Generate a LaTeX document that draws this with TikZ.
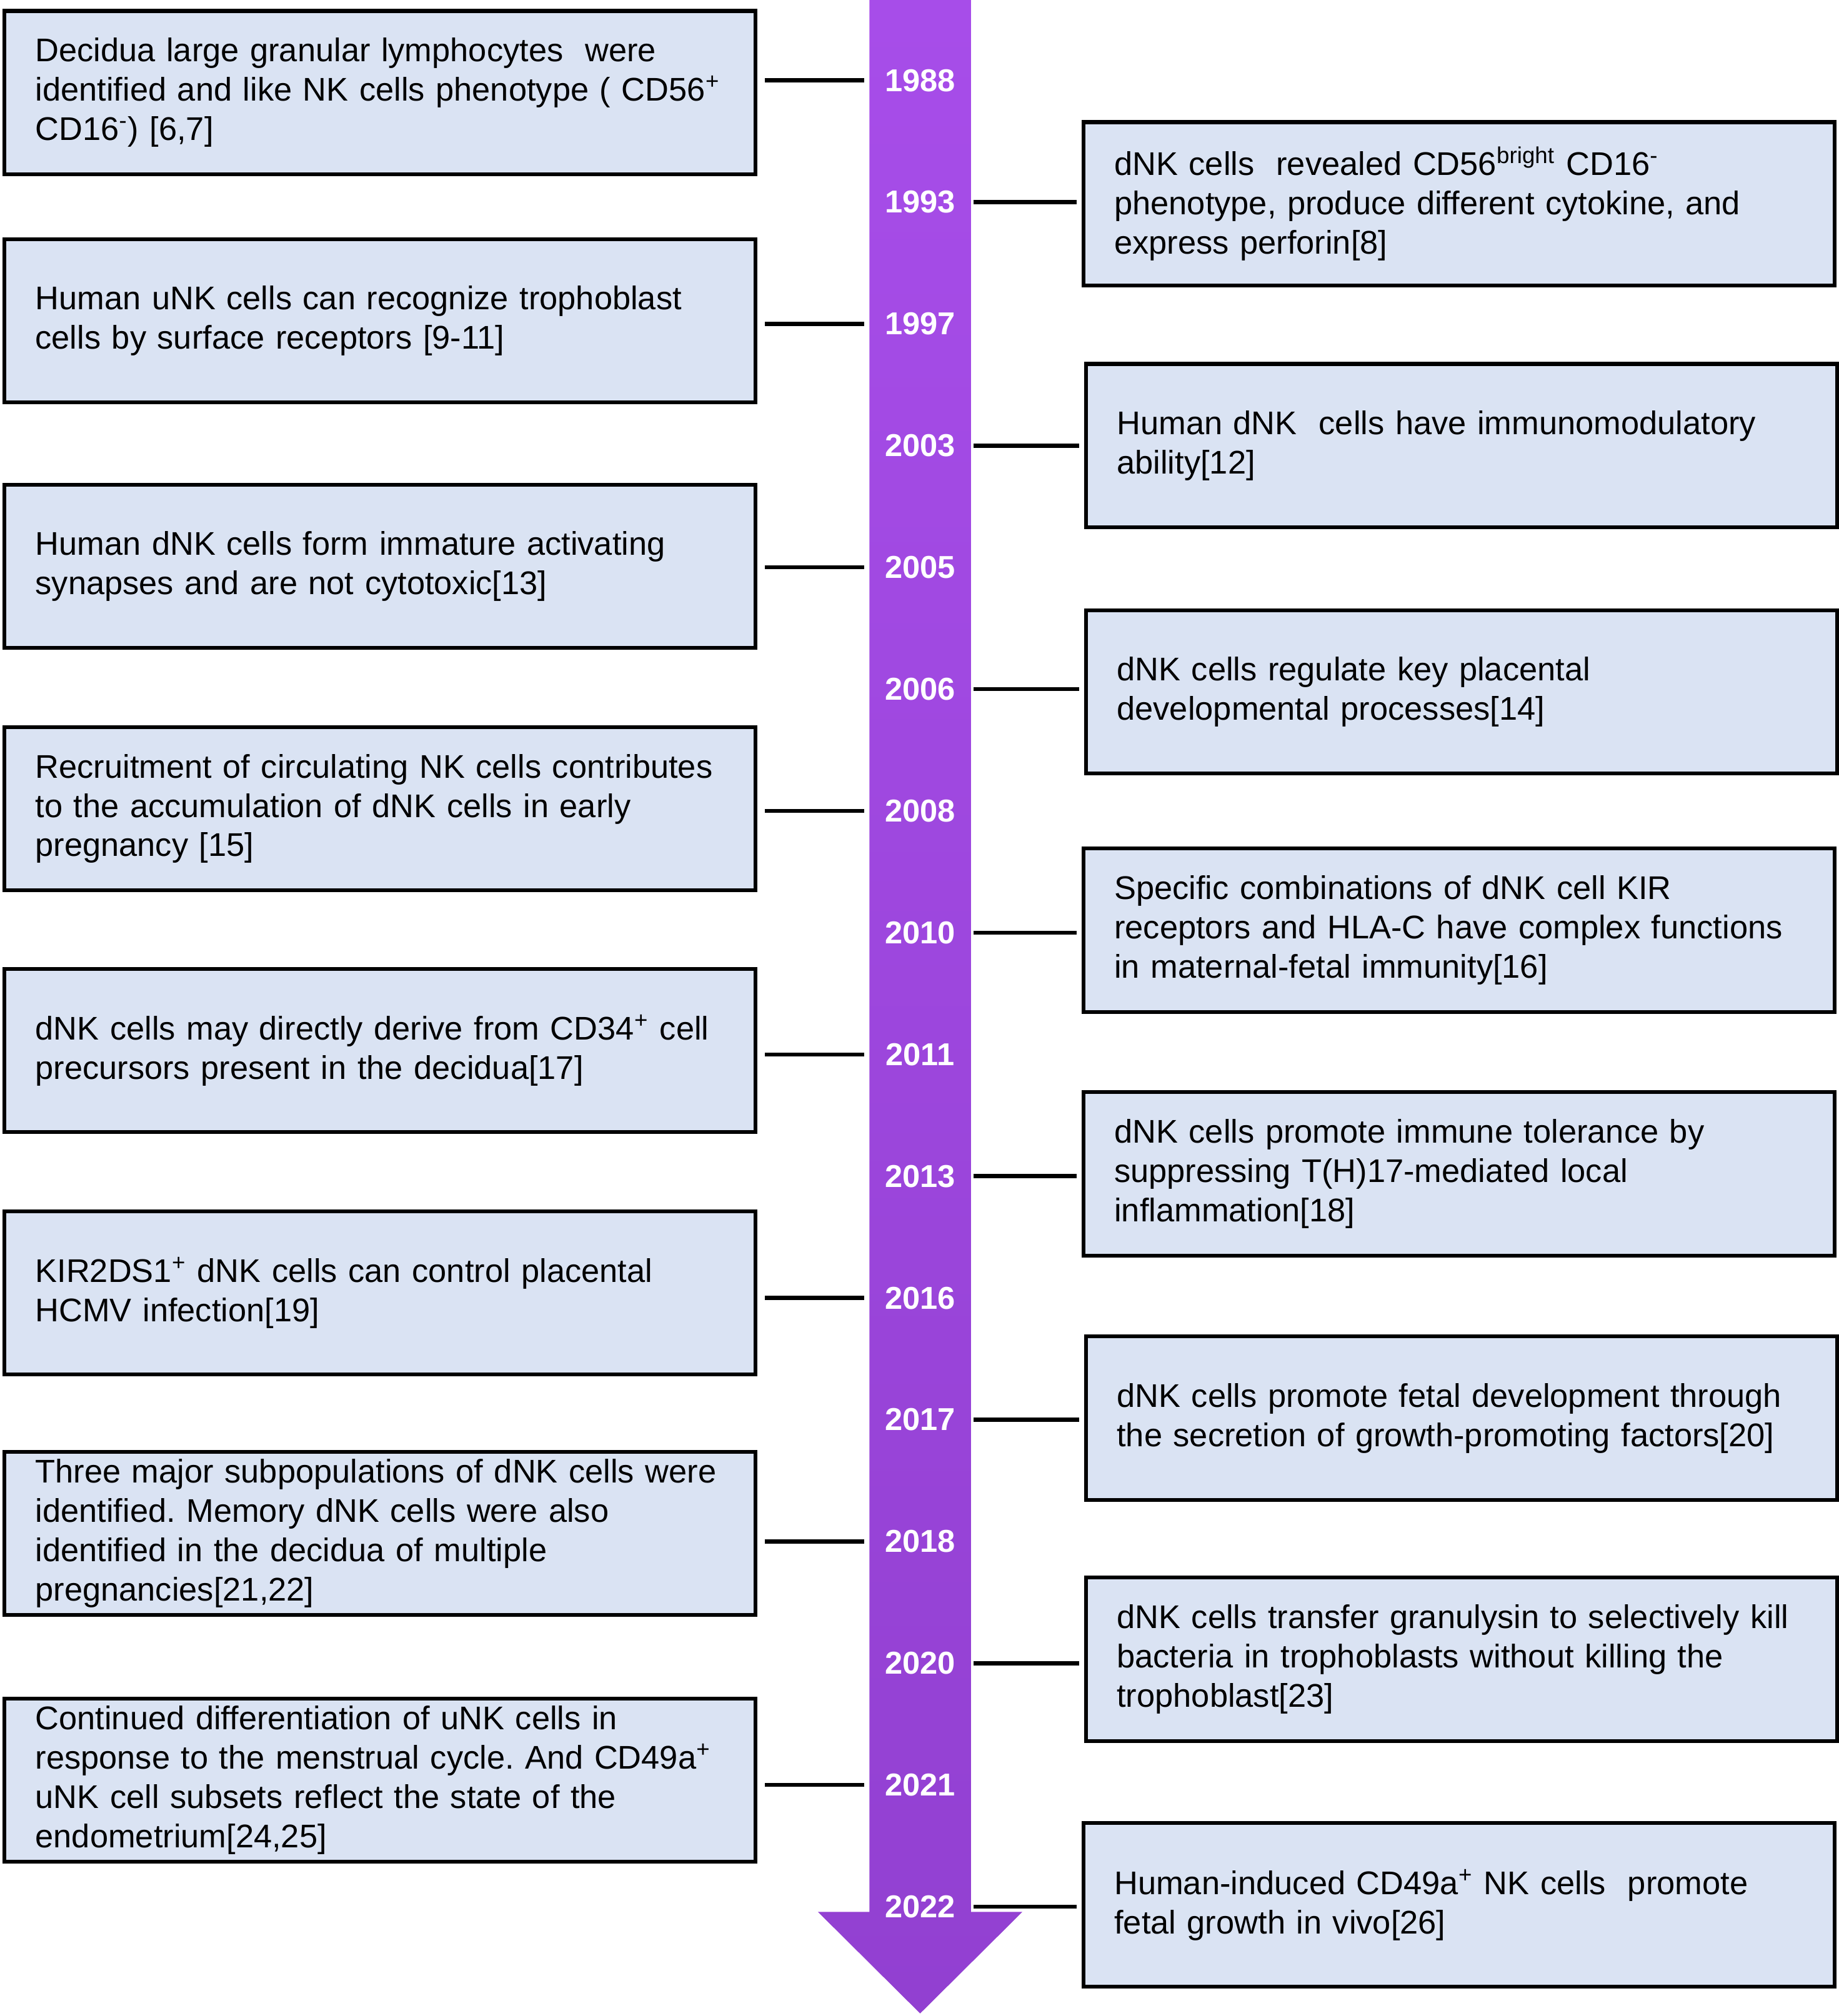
\documentclass[tikz,border=0pt]{standalone}
\usepackage{fontspec}
\setmainfont{Liberation Sans}
\usepackage{tikz}
\frenchspacing
\definecolor{boxblue}{RGB}{218,227,243}
\definecolor{bartop}{RGB}{167,77,233}
\definecolor{barbottom}{RGB}{146,64,209}
\tikzset{
x=0.02cm, y=-0.02cm, % one unit is one pixel of the sketch, y grows downwards
event/.style={draw, line width=1.7pt, fill=boxblue, text width=10.72cm, inner xsep=0.48cm, inner ysep=0pt, minimum height=2.54cm, align=left, anchor=west, font=\fontsize{14.5}{17.4}\selectfont}, % the text boxes
year/.style={text=white, font=\fontsize{14}{16}\selectfont\bfseries}, % years on the bar
conn/.style={line width=1.8pt}, % line from a box to its year
}
\begin{document}
\begin{tikzpicture}
                \useasboundingbox (0,0) rectangle (1430,1568);
                \shade[top color=bartop, bottom color=barbottom] (676,0) -- (755,0) -- (755,1487) -- (795,1487) -- (715.5,1566) -- (636,1487) -- (676,1487) -- cycle;
                \coordinate (barL) at (676,0);
                \coordinate (barR) at (755,0);
                \foreach \yr [count=\i from 0] in {1988,1993,1997,2003,2005,2006,2008,2010,2011,2013,2016,2017,2018,2020,2021,2022}
                    \node[year] (y\i) at (715.5,{62.5+94.7*\i}) {\yr};
                % left column
                \node[event] (l1) at (2,72) {Decidua large granular lymphocytes\ \ were\\ identified and like NK cells phenotype ( CD56\textsuperscript{+}\\ CD16\textsuperscript{-}) [6,7]};
                \node[event] (l2) at (2,249.5) {Human uNK cells can recognize trophoblast\\ cells by surface receptors [9-11]};
                \node[event] (l3) at (2,440.5) {Human dNK cells form immature activating\\ synapses and are not cytotoxic[13]};
                \node[event] (l4) at (2,629) {Recruitment of circulating NK cells contributes\\ to the accumulation of dNK cells in early\\ pregnancy [15]};
                \node[event] (l5) at (2,817) {dNK cells may directly derive from CD34\textsuperscript{+} cell\\ precursors present in the decidua[17]};
                \node[event] (l6) at (2,1005.5) {KIR2DS1\textsuperscript{+} dNK cells can control placental\\ HCMV infection[19]};
                \node[event] (l7) at (2,1192.5) {Three major subpopulations of dNK cells were\\ identified. Memory dNK cells were also\\ identified in the decidua of multiple\\ pregnancies[21,22]};
                \node[event] (l8) at (2,1384.5) {Continued differentiation of uNK cells in\\ response to the menstrual cycle. And CD49a\textsuperscript{+}\\ uNK cell subsets reflect the state of the\\ endometrium[24,25]};
                % right column
                \node[event] (r1) at (841,158.5) {dNK cells\ \ revealed CD56\textsuperscript{bright} CD16\textsuperscript{-}\\ phenotype, produce different cytokine, and\\ express perforin[8]};
                \node[event] (r2) at (843,346.5) {Human dNK\ \ cells have immunomodulatory\\ ability[12]};
                \node[event] (r3) at (843,538) {dNK cells regulate key placental\\ developmental processes[14]};
                \node[event] (r4) at (841,723.5) {Specific combinations of dNK cell KIR\\ receptors and HLA-C have complex functions\\ in maternal-fetal immunity[16]};
                \node[event] (r5) at (841,913) {dNK cells promote immune tolerance by\\ suppressing T(H)17-mediated local\\ inflammation[18]};
                \node[event] (r6) at (843,1103) {dNK cells promote fetal development through\\ the secretion of growth-promoting factors[20]};
                \node[event] (r7) at (843,1290.5) {dNK cells transfer granulysin to selectively kill\\ bacteria in trophoblasts without killing the\\ trophoblast[23]};
                \node[event] (r8) at (841,1481.5) {Human-induced CD49a\textsuperscript{+} NK cells\ \ promote\\ fetal growth in vivo[26]};
                \foreach \b/\k in {l1/0,l2/2,l3/4,l4/6,l5/8,l6/10,l7/12,l8/14}
                    \draw[conn, shorten <=0.12cm, shorten >=0.08cm] (\b.east |- y\k) -- (barL |- y\k);
                \foreach \b/\k in {r1/1,r2/3,r3/5,r4/7,r5/9,r6/11,r7/13,r8/15}
                    \draw[conn, shorten <=0.04cm, shorten >=0.08cm] (barR |- y\k) -- (\b.west |- y\k);
\end{tikzpicture}
\end{document}
